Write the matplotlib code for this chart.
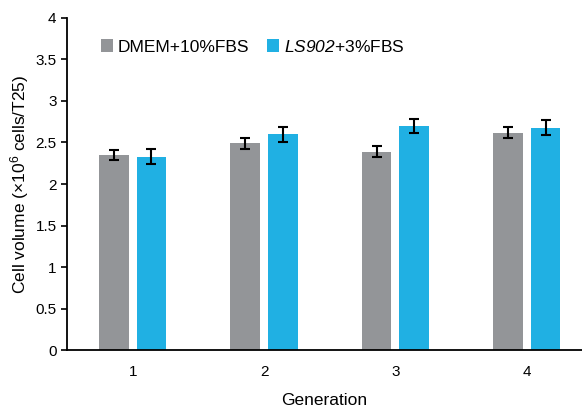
import matplotlib
matplotlib.use('Agg')
import matplotlib.pyplot as plt
import numpy as np

plt.rcParams['font.family'] = ['Liberation Sans', 'DejaVu Sans']
plt.rcParams['mathtext.fontset'] = 'custom'
plt.rcParams['mathtext.rm'] = 'Liberation Sans'
plt.rcParams['mathtext.it'] = 'Liberation Sans:italic'
plt.rcParams['mathtext.sf'] = 'Liberation Sans:italic'

generacje = [1, 2, 3, 4]
dmem = [2.35, 2.49, 2.39, 2.62]
dmem_err = [0.064, 0.064, 0.064, 0.066]
ls902 = [2.33, 2.60, 2.70, 2.68]
ls902_err = [0.088, 0.09, 0.088, 0.09]

x = np.array(generacje, dtype=float)
szer = 0.225

fig = plt.figure(figsize=(5.82, 4.08), dpi=100)
ax = fig.add_axes([0.115, 0.142, 0.885, 0.814])

ax.bar(x - 0.143, dmem, szer, color='#939598', label='DMEM+10%FBS',
       yerr=dmem_err, error_kw=dict(ecolor='black', elinewidth=1.5, capsize=3.5, capthick=1.5))
ax.bar(x + 0.143, ls902, szer, color='#20b0e3', label=r'$\mathsf{LS902}$+3%FBS',
       yerr=ls902_err, error_kw=dict(ecolor='black', elinewidth=1.5, capsize=3.5, capthick=1.5))

ax.set_xlim(0.5, 4.42)
ax.set_ylim(0, 4)
ax.set_yticks(np.arange(0, 4.01, 0.5))
ax.set_yticklabels(['0', '0.5', '1', '1.5', '2', '2.5', '3', '3.5', '4'])
ax.set_xticks(x)
ax.set_xticklabels([str(g) for g in generacje])
ax.tick_params(axis='x', length=0, labelsize=11, pad=11)
ax.tick_params(axis='y', direction='out', length=4, width=1.2, labelsize=11)
ax.spines['top'].set_visible(False)
ax.spines['right'].set_visible(False)
ax.spines['left'].set_linewidth(1.3)
ax.spines['bottom'].set_linewidth(1.3)

ax.set_xlabel('Generation', fontsize=12.5, labelpad=10)
ax.set_ylabel(r'Cell volume (×10$^6$ cells/T25)', fontsize=12.5, labelpad=3)

ax.legend(loc='upper left', bbox_to_anchor=(0.035, 0.985), ncol=2, frameon=False,
          fontsize=12.5, handlelength=0.7, handleheight=0.7, handletextpad=0.3,
          columnspacing=1.0)

plt.savefig('out.png', dpi=100)
